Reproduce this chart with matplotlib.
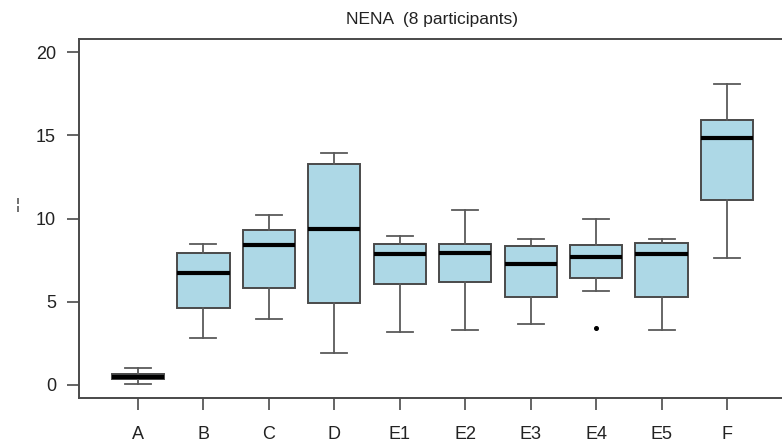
import matplotlib
matplotlib.use("Agg")
import matplotlib.pyplot as plt

plt.rcParams['font.family'] = ['Liberation Sans', 'DejaVu Sans']

# ---------------- DATA ----------------
groups = ["A", "B", "C", "D", "E1", "E2", "E3", "E4", "E5", "F"]
whislo = [0.02, 2.83, 3.93, 1.89, 3.17, 3.29, 3.67, 5.66, 3.29, 7.63]
q1 = [0.32, 4.60, 5.80, 4.90, 6.04, 6.20, 5.30, 6.45, 5.30, 11.10]
med = [0.46, 6.72, 8.39, 9.36, 7.87, 7.93, 7.27, 7.67, 7.89, 14.86]
q3 = [0.62, 7.91, 9.28, 13.25, 8.47, 8.49, 8.37, 8.41, 8.53, 15.94]
whishi = [1.00, 8.47, 10.20, 13.95, 8.93, 10.52, 8.77, 10.00, 8.77, 18.07]
outliers = [[], [], [], [], [], [], [], [3.39], [], []]

stats = []
for i in range(len(groups)):
    stats.append(dict(label=groups[i], whislo=whislo[i], q1=q1[i], med=med[i],
                      q3=q3[i], whishi=whishi[i], fliers=outliers[i]))

# ---------------- FIGURE ----------------
fig = plt.figure(figsize=(7.82, 4.45), dpi=100)
W, H = 782, 445
left, right, top, bottom = 79, 786, 39, 398
ax = fig.add_axes([left / W, 1 - bottom / H, (right - left) / W, (bottom - top) / H])

edge = "#4a4a4a"
ax.bxp(stats, positions=range(1, len(groups) + 1), widths=0.8, patch_artist=True,
       boxprops=dict(facecolor="#add8e6", edgecolor=edge, linewidth=1.4),
       medianprops=dict(color="black", linewidth=3),
       whiskerprops=dict(color="#5a5a5a", linewidth=1.3),
       capprops=dict(color="#5a5a5a", linewidth=1.3),
       capwidths=0.4,
       flierprops=dict(marker="o", markersize=2.6, markerfacecolor="black",
                       markeredgecolor="black"))

ax.set_xlim(0.1, 10.9)
ax.set_ylim(-0.8, 20.8)
ax.set_yticks([0, 5, 10, 15, 20])
ax.set_xticks(range(1, len(groups) + 1))
ax.set_xticklabels(groups)

for s in ax.spines.values():
    s.set_color("#4a4a4a")
    s.set_linewidth(1.4)
ax.spines["right"].set_visible(False)
ax.tick_params(axis="both", colors="#4a4a4a", labelcolor="#222222", labelsize=13,
               length=8.5, width=1.2)
ax.tick_params(axis="y", pad=8)
ax.tick_params(axis="x", pad=12)

ax.set_title("NENA  (8 participants)", fontsize=12.5, color="#222222", pad=11)

# cropped y label remnant
fig.text(18 / W, 1 - 205 / H, "¦", fontsize=11, color="#222222",
         ha="center", va="center")

fig.savefig("out.png", dpi=100)
